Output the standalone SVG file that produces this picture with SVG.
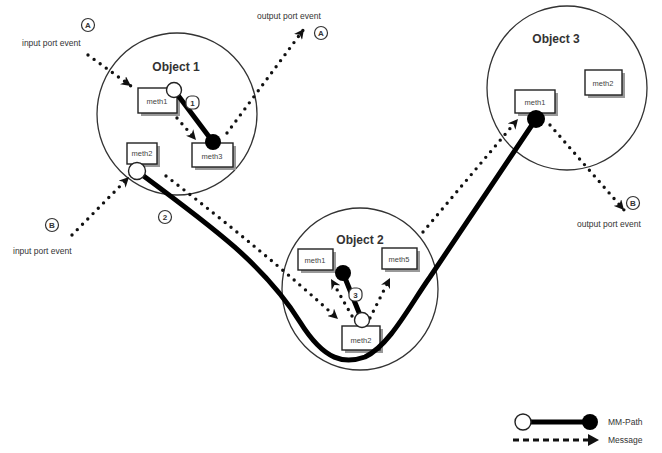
<svg xmlns="http://www.w3.org/2000/svg" width="662" height="453" viewBox="0 0 662 453">
<defs>
<style>
.obj{fill:none;stroke:#333;stroke-width:1.3}
.olbl{font-family:"Liberation Sans",Arial,sans-serif;font-weight:bold;font-size:12px;fill:#333}
.box{fill:#fff;stroke:#222;stroke-width:1.4}
.shd{fill:#999}
.mt{font-family:"Liberation Sans",Arial,sans-serif;font-size:7.5px;fill:#444}
.sm{font-family:"Liberation Sans",Arial,sans-serif;font-size:8.5px;fill:#333}
.msg{fill:none;stroke:#111;stroke-width:3.4;stroke-linecap:round;stroke-dasharray:0 7.5}
.mm{fill:none;stroke:#000;stroke-width:5;stroke-linecap:round}
.open{fill:#fff;stroke:#222;stroke-width:1.4}
.fill{fill:#000}
.tag{fill:#fff;stroke:#333;stroke-width:1.2}
.tt{font-family:"Liberation Sans",Arial,sans-serif;font-size:8px;font-weight:bold;fill:#333;text-anchor:middle}
</style>
<marker id="ah" markerUnits="userSpaceOnUse" markerWidth="12" markerHeight="10" refX="10" refY="5" orient="auto">
<path d="M0,0 L10,5 L0,10 L3,5 Z" fill="#111"/>
</marker>
</defs>
<rect width="662" height="453" fill="#fff"/>

<g id="object1">
<ellipse class="obj" cx="177" cy="114" rx="80" ry="81"/>
<text class="olbl" x="176" y="71" text-anchor="middle">Object 1</text>
</g>
<g id="object2">
<ellipse class="obj" cx="360" cy="289" rx="78" ry="81"/>
<text class="olbl" x="360" y="244" text-anchor="middle">Object 2</text>
</g>
<g id="object3">
<ellipse class="obj" cx="567" cy="88" rx="80" ry="82"/>
<text class="olbl" x="556" y="43" text-anchor="middle">Object 3</text>
</g>

<g id="o1-meth1"><rect class="shd" x="141" y="91" width="39" height="25"/><rect class="box" x="138" y="88" width="39" height="25"/><text class="mt" x="157" y="104" text-anchor="middle">meth1</text></g>
<g id="o1-meth3"><rect class="shd" x="195" y="146" width="41" height="24"/><rect class="box" x="192" y="143" width="41" height="24"/><text class="mt" x="212" y="159" text-anchor="middle">meth3</text></g>
<g id="o1-meth2"><rect class="shd" x="130" y="146" width="30" height="21"/><rect class="box" x="127" y="143" width="30" height="21"/><text class="mt" x="142" y="156" text-anchor="middle">meth2</text></g>
<g id="o2-meth1"><rect class="shd" x="301" y="252" width="35" height="21"/><rect class="box" x="298" y="249" width="35" height="21"/><text class="mt" x="315" y="263" text-anchor="middle">meth1</text></g>
<g id="o2-meth5"><rect class="shd" x="385" y="251" width="35" height="21"/><rect class="box" x="382" y="248" width="35" height="21"/><text class="mt" x="399" y="262" text-anchor="middle">meth5</text></g>
<g id="o2-meth2"><rect class="shd" x="345" y="329" width="38" height="24"/><rect class="box" x="342" y="326" width="38" height="24"/><text class="mt" x="361" y="343" text-anchor="middle">meth2</text></g>
<g id="o3-meth1"><rect class="shd" x="518" y="93" width="40" height="23"/><rect class="box" x="515" y="90" width="40" height="23"/><text class="mt" x="535" y="105" text-anchor="middle">meth1</text></g>
<g id="o3-meth2"><rect class="shd" x="588" y="73" width="37" height="25"/><rect class="box" x="585" y="70" width="37" height="25"/><text class="mt" x="603" y="86" text-anchor="middle">meth2</text></g>

<g id="connectors">
<path class="mm" d="M137,171 C210,225 265,265 300,322 C325,362 345,364 365,357 C390,345 410,305 430,277 L536,119"/>
<line class="mm" x1="174" y1="90" x2="213" y2="142"/>
<line class="mm" x1="343" y1="273" x2="362" y2="320"/>

<path class="msg" d="M88,55 L131,86" marker-end="url(#ah)"/>
<path class="msg" d="M177,118 L196,140" marker-end="url(#ah)"/>
<path class="msg" d="M227,133 L304,29" marker-end="url(#ah)"/>
<path class="msg" d="M72,235 L129,177" marker-end="url(#ah)"/>
<path class="msg" d="M166,176 C230,225 290,275 338,319" marker-end="url(#ah)"/>
<path class="msg" d="M352,316 L331,279" marker-end="url(#ah)"/>
<path class="msg" d="M370,318 L390,278" marker-end="url(#ah)"/>
<path class="msg" d="M423,232 L518,119" marker-end="url(#ah)"/>
<path class="msg" d="M550,125 L624,210" marker-end="url(#ah)"/>

<circle class="open" cx="174" cy="90" r="7.5"/>
<circle class="fill" cx="213" cy="142" r="8"/>
<circle class="open" cx="137" cy="171" r="8.5"/>
<circle class="fill" cx="343" cy="273" r="8"/>
<circle class="open" cx="362" cy="320" r="7.5"/>
<circle class="fill" cx="536" cy="119" r="9"/>
</g>

<g id="labels">
<rect class="tag" x="186" y="96" width="13" height="13" rx="5"/><text class="tt" x="192.5" y="106">1</text>
<circle class="tag" cx="165" cy="217" r="6.5"/><text class="tt" x="165" y="220">2</text>
<rect class="tag" x="349" y="288" width="13" height="13" rx="5"/><text class="tt" x="355.5" y="298">3</text>
<circle class="tag" cx="88" cy="25" r="6.5"/><text class="tt" x="88" y="28">A</text>
<circle class="tag" cx="321" cy="33" r="6.5"/><text class="tt" x="321" y="36">A</text>
<circle class="tag" cx="52" cy="225" r="6.5"/><text class="tt" x="52" y="228">B</text>
<circle class="tag" cx="633" cy="203" r="6.5"/><text class="tt" x="633" y="206">B</text>
<text class="sm" x="22" y="46">input port event</text>
<text class="sm" x="257" y="19">output port event</text>
<text class="sm" x="13" y="254">input port event</text>
<text class="sm" x="577" y="227">output port event</text>
</g>

<g id="legend">
<line class="mm" x1="523" y1="422" x2="590" y2="422"/>
<circle class="open" cx="523" cy="422" r="8"/>
<circle class="fill" cx="590" cy="422" r="8"/>
<text class="sm" x="608" y="425">MM-Path</text>
<line x1="513" y1="440" x2="590" y2="440" stroke="#111" stroke-width="3" stroke-dasharray="6 4"/>
<path d="M588,434 L599,440 L588,446 Z" fill="#111"/>
<text class="sm" x="608" y="443">Message</text>
</g>
</svg>
